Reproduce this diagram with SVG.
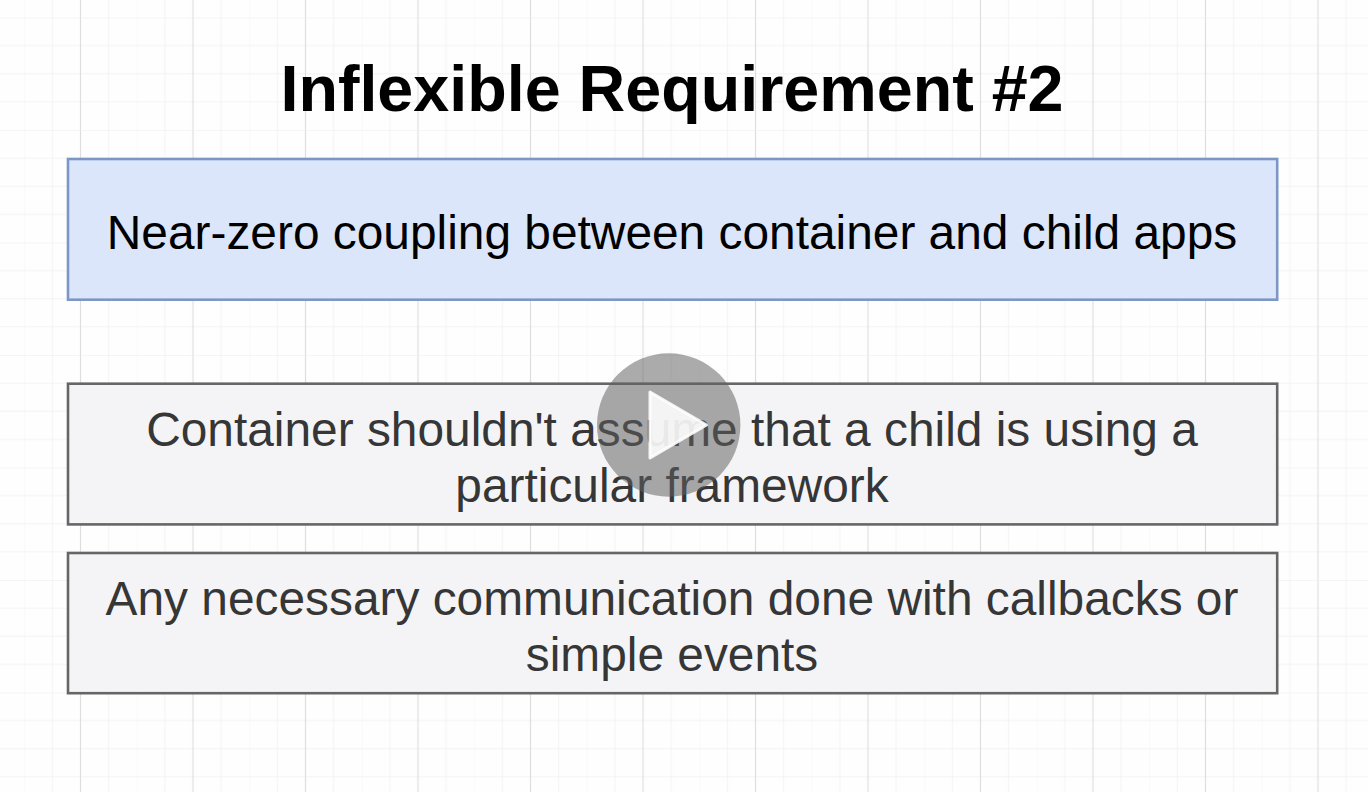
<svg xmlns="http://www.w3.org/2000/svg" width="1368" height="792" viewBox="0 0 1368 792">
<style>
text{font-family:"Liberation Sans",Arial,sans-serif;text-anchor:middle}
.box{stroke-width:2.6}
.blue{fill:#dbe6fa;stroke:#7c96c5}
.gray{fill:#f4f4f6;stroke:#666666}
.t{font-size:47.85px;fill:#363636}
</style>
<defs>
<pattern id="grid" patternUnits="userSpaceOnUse" x="24.25" y="17.5" width="112.5" height="112.5">
<path d="M0 0V112.5M28.125 0V112.5M84.375 0V112.5M0 28.125H112.5M0 56.25H112.5M0 84.375H112.5" stroke="#f3f3f3" stroke-width="1" fill="none"/>
<path d="M56.25 0V112.5" stroke="#dedede" stroke-width="1.2" fill="none"/>
<path d="M0 0H112.5" stroke="#ececec" stroke-width="1.2" fill="none"/>
</pattern>
</defs>
<rect width="1368" height="792" fill="#fefefe"/>
<rect width="1368" height="792" fill="url(#grid)"/>
<g id="title"><text x="672" y="110.5" font-size="64.65" font-weight="700" fill="#000">Inflexible Requirement #2</text></g>
<g id="node-requirement"><rect class="box blue" x="68" y="159" width="1209.2" height="140.7"/><text class="t" x="672" y="248.5" style="fill:#000">Near-zero coupling between container and child apps</text></g>
<g id="node-framework"><rect class="box gray" x="68" y="383.7" width="1209.2" height="140.7"/><text class="t" x="672" y="445.5">Container shouldn't assume that a child is using a</text><text class="t" x="672" y="501.5">particular framework</text></g>
<g id="node-communication"><rect class="box gray" x="68" y="553" width="1209.2" height="140.2"/><text class="t" x="672" y="614.5">Any necessary communication done with callbacks or</text><text class="t" x="672" y="670.5">simple events</text></g>
<g id="connectors"></g>
<g id="play"><circle cx="668.7" cy="425" r="71.7" fill="#606060" fill-opacity="0.53"/><path d="M650 392L706.5 425L650 458Z" fill="#fff" fill-opacity="0.88" stroke="#fff" stroke-opacity="0.88" stroke-width="3" stroke-linejoin="round"/></g>
</svg>
